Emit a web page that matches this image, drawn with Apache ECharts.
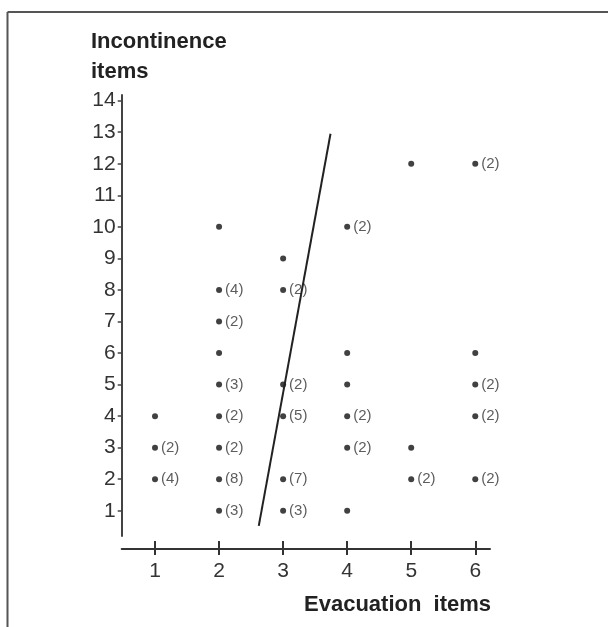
<!DOCTYPE html>
<html>
<head>
<meta charset="utf-8">
<script src="https://cdn.jsdelivr.net/npm/echarts@6/dist/echarts.min.js"></script>
<style>
html,body{margin:0;padding:0;background:#fff;}
#c{width:608px;height:627px;}
</style>
</head>
<body>
<div id="c"></div>
<script>
// Points: [evacuation items, incontinence items, count (0 = single)]
const pointsX1 = [[1,4,0],[1,3,2],[1,2,4]];
const pointsX2 = [[2,10,0],[2,8,4],[2,7,2],[2,6,0],[2,5,3],[2,4,2],[2,3,2],[2,2,8],[2,1,3]];
const pointsX3 = [[3,9,0],[3,8,2],[3,5,2],[3,4,5],[3,2,7],[3,1,3]];
const pointsX4 = [[4,10,2],[4,6,0],[4,5,0],[4,4,2],[4,3,2],[4,1,0]];
const pointsX5 = [[5,12,0],[5,3,0],[5,2,2]];
const pointsX6 = [[6,12,2],[6,6,0],[6,5,2],[6,4,2],[6,2,2]];
const lineEnds = [[2.62,0.52],[3.74,12.95]];
const xTicks = [1,2,3,4,5,6];
const yTicks = [1,2,3,4,5,6,7,8,9,10,11,12,13,14];

const allPoints = [].concat(pointsX1, pointsX2, pointsX3, pointsX4, pointsX5, pointsX6);

const chart = echarts.init(document.getElementById('c'), null, {renderer:'canvas'});
const font = 'Liberation Sans, Arial, sans-serif';
const axisColor = '#333';
const xMin = 0.48, xMax = 6.23;

chart.setOption({
  backgroundColor: '#fff',
  animation: false,
  title: [
    {text: 'Incontinence\nitems', left: 86, top: 22,
     textStyle: {fontFamily: font, fontSize: 22, fontWeight: 'bold', color: '#222', lineHeight: 30}},
    {text: 'Evacuation  items', left: 299, top: 589,
     textStyle: {fontFamily: font, fontSize: 22, fontWeight: 'bold', color: '#222'}}
  ],
  graphic: [
    {type: 'line', shape: {x1: 7.5, y1: 12, x2: 608, y2: 12}, style: {stroke: '#555', lineWidth: 2}},
    {type: 'line', shape: {x1: 7.5, y1: 12, x2: 7.5, y2: 627}, style: {stroke: '#555', lineWidth: 2}}
  ],
  grid: [
    {left: 121.7, right: 118, top: 95, bottom: 91},
    {left: 121.7, right: 118, top: 548, bottom: 78}
  ],
  xAxis: [
    {type: 'value', gridIndex: 0, min: xMin, max: xMax, show: false},
    {type: 'value', gridIndex: 1, min: xMin, max: xMax, position: 'bottom',
     splitLine: {show: false},
     axisLine: {show: true, lineStyle: {color: axisColor, width: 2}},
     axisTick: {show: true, length: 6, customValues: xTicks, lineStyle: {color: axisColor, width: 2}},
     axisLabel: {show: true, customValues: xTicks, margin: 12, fontFamily: font, fontSize: 21, color: '#333'}},
    {type: 'value', gridIndex: 1, min: xMin, max: xMax, position: 'bottom',
     splitLine: {show: false},
     axisLine: {show: false},
     axisTick: {show: true, inside: true, length: 8, customValues: xTicks, lineStyle: {color: axisColor, width: 2}},
     axisLabel: {show: false}}
  ],
  yAxis: [
    {type: 'value', gridIndex: 0, min: 0.2, max: 14.18,
     splitLine: {show: false},
     axisLine: {show: true, lineStyle: {color: '#444', width: 2}},
     axisTick: {show: true, length: 4, customValues: yTicks, lineStyle: {color: '#444', width: 1.5}},
     axisLabel: {show: true, customValues: yTicks, margin: 6, fontFamily: font, fontSize: 21, color: '#333'}},
    {type: 'value', gridIndex: 1, show: false, min: 0, max: 1}
  ],
  series: [
    {type: 'scatter', xAxisIndex: 0, yAxisIndex: 0, symbol: 'circle', symbolSize: 6,
     itemStyle: {color: '#111'},
     data: allPoints,
     label: {show: true, position: 'right', distance: 3, fontFamily: font, fontSize: 15, color: '#333',
       formatter: p => p.data[2] ? '(' + p.data[2] + ')' : ''}},
    {type: 'line', xAxisIndex: 0, yAxisIndex: 0, data: lineEnds, symbol: 'none',
     lineStyle: {color: '#222', width: 2}}
  ]
});
</script>
</body>
</html>
